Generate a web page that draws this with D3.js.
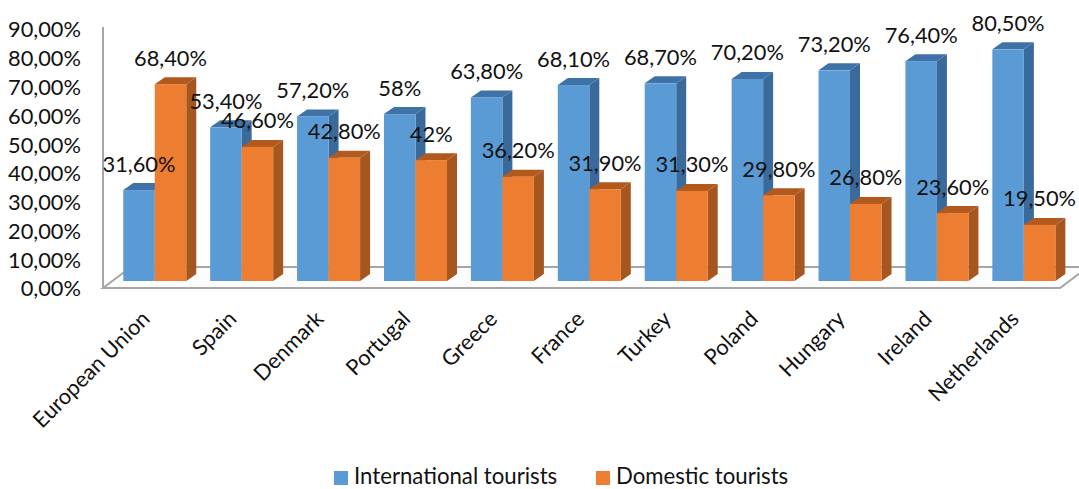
<!DOCTYPE html>
<html>
<head>
<meta charset="utf-8">
<script src="https://cdn.jsdelivr.net/npm/d3@7/dist/d3.min.js"></script>
<style>
  html, body { margin: 0; padding: 0; background: #fff; }
  svg { display: block; }
  text { font-family: Lato, "Open Sans", sans-serif; fill: #111; }
</style>
</head>
<body>
<script>
const categories = ["European Union", "Spain", "Denmark", "Portugal", "Greece", "France", "Turkey", "Poland", "Hungary", "Ireland", "Netherlands"];
const international = [31.6, 53.4, 57.2, 58, 63.8, 68.1, 68.7, 70.2, 73.2, 76.4, 80.5];
const domestic = [68.4, 46.6, 42.8, 42, 36.2, 31.9, 31.3, 29.8, 26.8, 23.6, 19.5];
const intlLabels = ["31,60%", "53,40%", "57,20%", "58%", "63,80%", "68,10%", "68,70%", "70,20%", "73,20%", "76,40%", "80,50%"];
const domLabels = ["68,40%", "46,60%", "42,80%", "42%", "36,20%", "31,90%", "31,30%", "29,80%", "26,80%", "23,60%", "19,50%"];
const yTicks = [0, 10, 20, 30, 40, 50, 60, 70, 80, 90];

const width = 1079, height = 489;
const depthX = 10, depthY = 7, floorDepthX = 28, floorDepthY = 21;
const fontSize = 21.8;

const svg = d3.select("body").append("svg").attr("width", width).attr("height", height);

const y = d3.scaleLinear().domain([0, 90]).range([288, 29]);
const x0 = d3.scaleBand().domain(categories).range([111.3, 1067.3]).paddingInner(0.275).paddingOuter(0.1375);
const x1 = d3.scaleBand().domain(["international", "domestic"]).range([0, x0.bandwidth()]);

const series = [
  { key: "international", name: "International tourists", values: international, labels: intlLabels,
    front: "#5B9BD5", side: "#3A6A9B", top: "#3F72A6" },
  { key: "domestic", name: "Domestic tourists", values: domestic, labels: domLabels,
    front: "#ED7D31", side: "#A5571F", top: "#B25A1E" }
];

// Chart floor, seen in perspective below the columns
const floorY = y(0), floorLeft = 103, floorRight = 1060;
svg.append("path")
  .attr("d", d3.line()([
    [floorLeft, floorY],
    [floorLeft + floorDepthX, floorY - floorDepthY],
    [floorRight + floorDepthX, floorY - floorDepthY],
    [floorRight, floorY]
  ]) + "Z")
  .attr("fill", "#fcfcfc").attr("stroke", "#a6a6a6").attr("stroke-width", 2);

// Value axis
const yAxis = d3.axisLeft(y)
  .tickValues(yTicks)
  .tickSize(0)
  .tickPadding(22)
  .tickFormat(d => d3.format(".2f")(d).replace(".", ",") + "%");
const axisG = svg.append("g").attr("transform", `translate(${floorLeft},1)`).call(yAxis);
axisG.select(".domain").remove();
axisG.selectAll("text").attr("font-size", fontSize);
svg.append("line")
  .attr("x1", floorLeft).attr("x2", floorLeft)
  .attr("y1", y(90) - 2).attr("y2", floorY)
  .attr("stroke", "#a6a6a6").attr("stroke-width", 2);

// 3D columns: side and top faces are drawn first, the front face over them
const columnY = v => y(v) - depthY;
const groups = svg.selectAll("g.group").data(categories).join("g")
  .attr("class", "group")
  .attr("transform", d => `translate(${x0(d)},0)`);

series.forEach(s => {
  const col = groups.append("g").datum((d, i) => ({ v: s.values[i] }));
  const bw = x1.bandwidth(), left = x1(s.key);
  col.append("path")
    .attr("fill", s.side)
    .attr("d", d => d3.line()([
      [left + bw, columnY(d.v)],
      [left + bw + depthX, columnY(d.v) - depthY],
      [left + bw + depthX, columnY(0) - depthY],
      [left + bw, columnY(0)]
    ]) + "Z");
  col.append("path")
    .attr("fill", s.top)
    .attr("d", d => d3.line()([
      [left, columnY(d.v)],
      [left + depthX, columnY(d.v) - depthY],
      [left + bw + depthX, columnY(d.v) - depthY],
      [left + bw, columnY(d.v)]
    ]) + "Z");
  col.append("rect")
    .attr("x", left).attr("width", bw)
    .attr("y", d => columnY(d.v))
    .attr("height", d => columnY(0) - columnY(d.v))
    .attr("fill", s.front);
});

// Value labels sit above the front edge of each column
series.forEach(s => {
  svg.append("g").selectAll("text").data(categories).join("text")
    .attr("x", d => x0(d) + x1(s.key) + x1.bandwidth() / 2)
    .attr("y", (d, i) => columnY(s.values[i]) - 18.5)
    .attr("text-anchor", "middle")
    .attr("font-size", fontSize)
    .text((d, i) => s.labels[i]);
});

// Category labels, rotated
svg.append("g").selectAll("text").data(categories).join("text")
  .attr("transform", d => `translate(${x0(d) + x0.bandwidth() / 2 - 13},${311}) rotate(-45)`)
  .attr("text-anchor", "end")
  .attr("dy", "0.6em")
  .attr("font-size", fontSize)
  .text(d => d);

// Legend
const legendItems = [{ s: series[0], x: 334 }, { s: series[1], x: 596 }];
const legend = svg.append("g").selectAll("g").data(legendItems).join("g")
  .attr("transform", d => `translate(${d.x},471)`);
legend.append("rect").attr("width", 14).attr("height", 14).attr("fill", d => d.s.front);
legend.append("text").attr("x", 20).attr("y", 13).attr("font-size", 22.2).text(d => d.s.name);
</script>
</body>
</html>
